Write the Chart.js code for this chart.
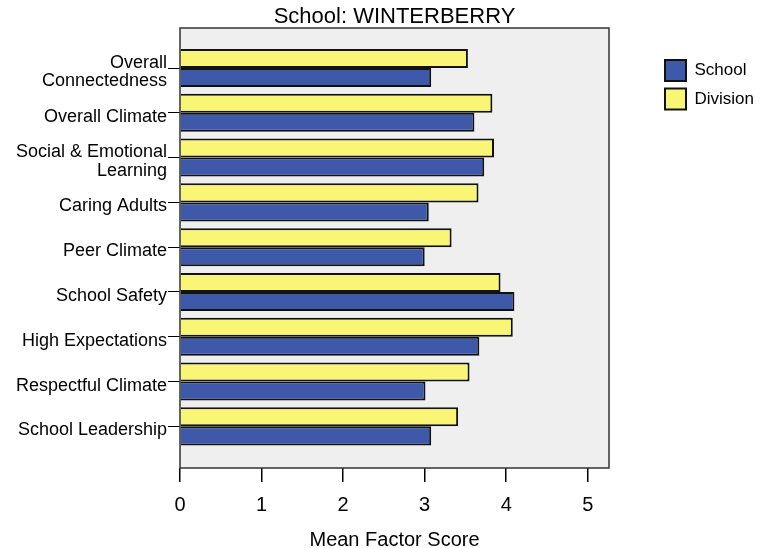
<!DOCTYPE html>
<html>
<head>
<meta charset="utf-8">
<script src="https://cdn.jsdelivr.net/npm/chart.js@4.4.1/dist/chart.umd.min.js"></script>
<style>
  html, body { margin: 0; padding: 0; background: #fff; }
</style>
</head>
<body>
<canvas id="chart" width="761" height="548"></canvas>
<script>
// Categorieen, van boven naar beneden
const categories = [
    ["Overall", "Connectedness"],
    "Overall Climate",
    ["Social & Emotional", "Learning"],
    "Caring Adults",
    "Peer Climate",
    "School Safety",
    "High Expectations",
    "Respectful Climate",
    "School Leadership"
];
const schoolScores   = [3.08, 3.61, 3.73, 3.05, 3.00, 4.10, 3.67, 3.01, 3.08];
const divisionScores = [3.53, 3.83, 3.85, 3.66, 3.33, 3.93, 4.08, 3.55, 3.41];
const xTicks = [0, 1, 2, 3, 4, 5];

const font = "'Liberation Sans', Arial, sans-serif";

// grijze achtergrond en kader van het plotvlak
const plotFrame = {
    id: 'plotFrame',
    beforeDraw(chart) {
        const { ctx, chartArea: a } = chart;
        ctx.save();
        ctx.fillStyle = '#efefef';
        ctx.fillRect(a.left, a.top, a.width, a.height);
        ctx.restore();
    },
    afterDatasetsDraw(chart) {
        const { ctx, chartArea: a } = chart;
        ctx.save();
        ctx.strokeStyle = '#333';
        ctx.lineWidth = 1.5;
        ctx.strokeRect(a.left, a.top, a.width, a.height);
        ctx.restore();
    }
};

const toPoints = arr => arr.map((v, i) => ({ x: v, y: i }));

new Chart(document.getElementById('chart'), {
    type: 'bar',
    data: {
        datasets: [
            {
                label: 'Division',
                data: toPoints(divisionScores),
                backgroundColor: '#faf675',
                borderColor: '#111',
                borderWidth: 2,
                xAxisID: 'x', yAxisID: 'y'
            },
            {
                label: 'School',
                data: toPoints(schoolScores),
                backgroundColor: '#3e58aa',
                borderColor: '#111',
                borderWidth: 2,
                xAxisID: 'x', yAxisID: 'y'
            }
        ]
    },
    options: {
        indexAxis: 'y',
        responsive: false,
        animation: false,
        categoryPercentage: 0.85,
        barPercentage: 1,
        layout: { padding: 0 },
        scales: {
            x: {
                type: 'linear',
                min: 0,
                max: 5.26,
                afterBuildTicks: s => { s.ticks = xTicks.map(v => ({ value: v })); },
                afterFit: s => { s.height = 80; },
                ticks: { color: '#000', font: { family: font, size: 20 }, padding: 11 },
                grid: { drawOnChartArea: false, tickLength: 14, color: '#000', lineWidth: 1.5 },
                border: { display: false },
                title: {
                    display: true,
                    text: 'Mean Factor Score',
                    color: '#000',
                    font: { family: font, size: 20, lineHeight: 0.8 },
                    padding: 0
                }
            },
            y: {
                type: 'linear',
                reverse: true,
                offset: false,
                min: -0.893,
                max: 8.93,
                afterBuildTicks: s => { s.ticks = categories.map((c, i) => ({ value: i })); },
                afterFit: s => { s.width = 180; },
                ticks: {
                    callback: v => categories[v],
                    autoSkip: false,
                    color: '#000',
                    font: { family: font, size: 18, lineHeight: 1.05 },
                    padding: 1,
                    labelOffset: 4
                },
                grid: { offset: false, drawOnChartArea: false, tickLength: 12, color: '#000' },
                border: { display: false }
            },
            pad: {
                type: 'linear',
                axis: 'y',
                position: 'right',
                afterFit: s => { s.width = 48.5; },
                ticks: { display: false },
                grid: { display: false },
                border: { display: false }
            }
        },
        plugins: {
            title: {
                display: true,
                text: 'School: WINTERBERRY',
                color: '#000',
                fullSize: false,
                font: { family: font, size: 22, weight: 'normal', lineHeight: 1.0 },
                padding: { top: 6, bottom: 0 }
            },
            legend: {
                position: 'right',
                align: 'start',
                fullSize: false,
                reverse: true,
                maxWidth: 103.5,
                title: { display: true, text: ' ', font: { size: 10 }, padding: { top: 12.5, bottom: 0 } },
                labels: {
                    boxWidth: 21,
                    boxHeight: 21,
                    padding: 7.5,
                    color: '#000',
                    font: { family: font, size: 17 }
                }
            },
            tooltip: { enabled: false }
        }
    },
    plugins: [plotFrame]
});
</script>
</body>
</html>
